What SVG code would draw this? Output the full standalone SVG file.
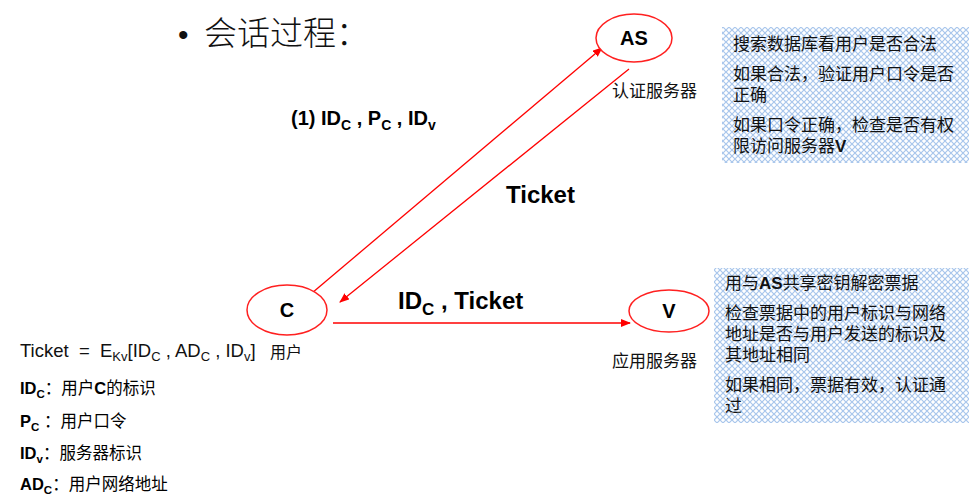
<svg xmlns="http://www.w3.org/2000/svg" width="977" height="502" viewBox="0 0 977 502">
<defs>
<pattern id="hatch" width="6" height="6" patternUnits="userSpaceOnUse">
<rect width="6" height="6" fill="#ffffff"/>
<path d="M0,0 L6,6 M6,0 L0,6" stroke="#a8c6ec" stroke-width="1.2"/>
</pattern>
<marker id="arr" markerWidth="10" markerHeight="8" refX="9" refY="4" orient="auto" markerUnits="userSpaceOnUse">
<path d="M0,0 L10,4 L0,8 Z" fill="#ff0000"/>
</marker>
<style>
.node{fill:#fff;stroke:#ff2020;stroke-width:1.5}
.nl{font-family:"Liberation Sans",Arial,sans-serif;font-weight:bold;font-size:20px;fill:#000;text-anchor:middle}
.lbl{font-family:"Liberation Sans","Noto Sans CJK SC",sans-serif;font-weight:bold;fill:#000}
.cn{font-family:"Noto Sans CJK SC",sans-serif;fill:#111}
.bx{font-family:"Liberation Sans","Noto Sans CJK SC",sans-serif;font-size:17px;fill:#111}
.conn{stroke:#ff0000;stroke-width:1.3;fill:none}
</style>
</defs>
<rect width="977" height="502" fill="#fff"/>
<text x="178" y="45" font-family="Liberation Sans,sans-serif" font-size="30" fill="#111">•</text>
<text x="204" y="45" font-family="Noto Sans CJK SC,sans-serif" font-size="33" font-weight="300" fill="#111">会话过程：</text>

<g id="connectors">
<line class="conn" x1="312" y1="293" x2="602" y2="48" marker-end="url(#arr)"/>
<line class="conn" x1="629" y1="69" x2="340" y2="302" marker-end="url(#arr)"/>
<line class="conn" x1="333" y1="323" x2="630" y2="323" marker-end="url(#arr)"/>
</g>

<g id="AS">
<ellipse class="node" cx="634" cy="38" rx="38" ry="24"/>
<text class="nl" x="634" y="45">AS</text>
<text class="cn" x="612" y="97" font-size="17">认证服务器</text>
</g>
<g id="C">
<ellipse class="node" cx="287" cy="310" rx="40" ry="25"/>
<text class="nl" x="287" y="317">C</text>
</g>
<g id="V">
<ellipse class="node" cx="669" cy="311" rx="40" ry="21"/>
<text class="nl" x="669" y="318">V</text>
<text class="cn" x="612" y="367" font-size="17">应用服务器</text>
</g>

<text class="lbl" x="291" y="125" font-size="20">(1) ID<tspan font-size="14" dy="5">C</tspan><tspan dy="-5"> , P</tspan><tspan font-size="14" dy="5">C</tspan><tspan dy="-5"> , ID</tspan><tspan font-size="14" dy="5">v</tspan></text>
<text class="lbl" x="506" y="203" font-size="24">Ticket</text>
<text class="lbl" x="398" y="309" font-size="24">ID<tspan font-size="17" dy="6">C</tspan><tspan dy="-6"> , Ticket</tspan></text>

<g id="as-box">
<rect x="722" y="27" width="247" height="136" fill="url(#hatch)"/>
<text class="bx" x="733" y="50">搜索数据库看用户是否合法</text>
<text class="bx" x="733" y="80">如果合法，验证用户口令是否</text>
<text class="bx" x="733" y="101">正确</text>
<text class="bx" x="733" y="131">如果口令正确，检查是否有权</text>
<text class="bx" x="733" y="152">限访问服务器<tspan font-weight="bold">V</tspan></text>
</g>
<g id="v-box">
<rect x="714" y="268" width="255" height="155" fill="url(#hatch)"/>
<text class="bx" x="725" y="289">用与<tspan font-weight="bold">AS</tspan>共享密钥解密票据</text>
<text class="bx" x="725" y="319">检查票据中的用户标识与网络</text>
<text class="bx" x="725" y="340">地址是否与用户发送的标识及</text>
<text class="bx" x="725" y="361">其地址相同</text>
<text class="bx" x="725" y="391">如果相同，票据有效，认证通</text>
<text class="bx" x="725" y="412">过</text>
</g>

<g id="legend">
<text xml:space="preserve" x="20" y="357" font-family="Liberation Sans,Noto Sans CJK SC,sans-serif" font-size="18.5" fill="#111">Ticket  =  E<tspan font-size="13" dy="4">Kv</tspan><tspan dy="-4">[ID</tspan><tspan font-size="13" dy="4">C</tspan><tspan dy="-4"> , AD</tspan><tspan font-size="13" dy="4">C</tspan><tspan dy="-4"> , ID</tspan><tspan font-size="13" dy="4">v</tspan><tspan dy="-4">]</tspan></text>
<text x="270" y="358" class="cn" font-size="16">用户</text>
<text x="20" y="394" class="lbl" font-size="16.5">ID<tspan font-size="11.5" dy="4">C</tspan><tspan dy="-4" font-weight="normal">：用户</tspan><tspan>C</tspan><tspan font-weight="normal">的标识</tspan></text>
<text x="20" y="427" class="lbl" font-size="16.5">P<tspan font-size="11.5" dy="4">C</tspan><tspan dy="-4" font-weight="normal"> ：用户口令</tspan></text>
<text x="20" y="459" class="lbl" font-size="16.5">ID<tspan font-size="11.5" dy="4">v</tspan><tspan dy="-4" font-weight="normal">：服务器标识</tspan></text>
<text x="20" y="490" class="lbl" font-size="16.5">AD<tspan font-size="11.5" dy="4">C</tspan><tspan dy="-4" font-weight="normal">：用户网络地址</tspan></text>
</g>
</svg>
